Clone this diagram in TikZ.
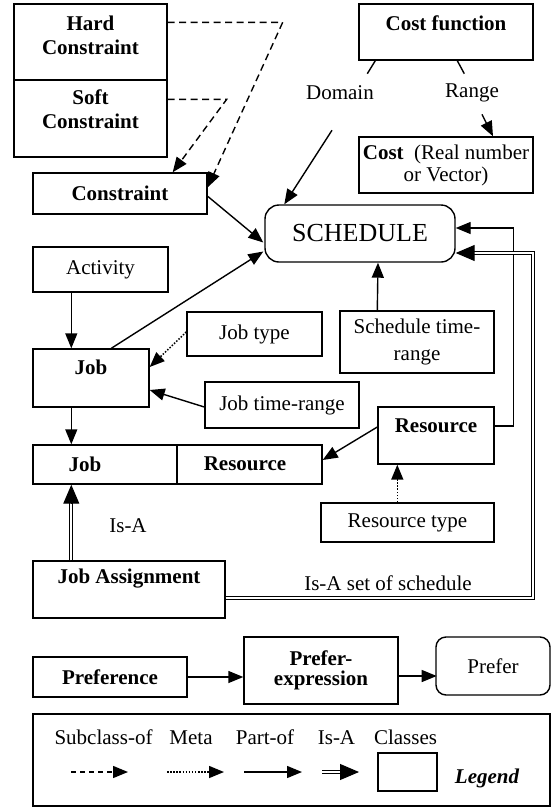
\documentclass[tikz,border=0pt]{standalone}
\usepackage{fontspec}
\setmainfont{Liberation Serif}
\usetikzlibrary{arrows.meta,calc}
\begin{document}
\fontsize{21}{24}\selectfont
\begin{tikzpicture}[x=1pt,y=-1pt,
 box/.style={draw, line width=1.4pt, inner sep=0pt, align=center},
 txt/.style={inner sep=0pt, align=center},
 arr/.style={line width=1.4pt, -{Triangle[length=15pt,width=12pt]}},
 dasharr/.style={arr, dash pattern=on 7pt off 4.5pt},
 dotarr/.style={arr, line width=1.5pt, dash pattern=on 1.5pt off 1.6pt},
 isaline/.style={double, double distance=2.2pt, line width=1pt},
 isatip/.style={-{Triangle[length=19pt,width=16pt]}},
 plain/.style={line width=1.4pt}]
\useasboundingbox (0,0) rectangle (553,809);

% top left
\node[box, minimum width=153, minimum height=76] (hard) at (90.5,42) {};
\node[txt, font=\bfseries] (hardT) at (90.5,35) {Hard\\Constraint};
\node[box, minimum width=153, minimum height=77] (soft) at (90.5,118.5) {};
\node[txt, font=\bfseries] (softT) at (90.5,109) {Soft\\Constraint};
\node[box, minimum width=174, minimum height=41, font=\bfseries] (cons) at (120,193.5) {Constraint};

% top right
\node[box, minimum width=174, minimum height=56] (costf) at (446,32) {};
\node[txt, font=\bfseries] (costfT) at (446,23) {Cost function};
\node[txt] (domain) at (340,93) {Domain};
\node[txt] (range) at (472,93) {Range};
\node[box, minimum width=174, minimum height=56, font=\fontsize{21}{22}\selectfont] (cost) at (446,165) {\textbf{Cost}\ \ (Real number\\or Vector)};

\node[box, rounded corners=14pt, minimum width=190, minimum height=57, font=\fontsize{26}{30}\selectfont] (sched) at (360,233.5) {SCHEDULE};

% middle
\node[box, minimum width=135, minimum height=45] (act) at (100.5,269.5) {Activity};
\node[box, minimum width=116, minimum height=58] (job) at (91,378) {};
\node[txt, font=\bfseries] (jobT) at (91,367) {Job};
\node[box, minimum width=135, minimum height=44] (jtype) at (254.5,334) {Job type};
\node[box, minimum width=154, minimum height=46] (jtr) at (282,405) {Job time-range};
\node[box, minimum width=154, minimum height=62, font=\fontsize{21}{27}\selectfont] (str) at (417,342) {Schedule time-\\range};
\node[box, minimum width=116, minimum height=57] (res) at (436,435.5) {};
\node[txt, font=\bfseries] (resT) at (436,426) {Resource};
\node[box, minimum width=144, minimum height=39] (jrJ) at (105,464.5) {};
\node[box, minimum width=145, minimum height=39] (jrR) at (249.5,464.5) {};
\node[txt, font=\bfseries] (jrJT) at (85,464) {Job};
\node[txt, font=\bfseries] (jrRT) at (245,464) {Resource};
\node[box, minimum width=173, minimum height=39] (rtype) at (407.5,522.5) {Resource type};
\node[box, minimum width=192, minimum height=57] (ja) at (129,589.5) {};
\node[txt, font=\bfseries] (jaT) at (129,579) {Job Assignment};
\node[txt] (isa) at (128,526) {Is-A};
\node[txt] (isaset) at (388,583) {Is-A set of schedule};

% preference row
\node[box, minimum width=154, minimum height=40, font=\bfseries] (pref) at (110,677) {Preference};
\node[box, minimum width=154, minimum height=67, font=\bfseries\fontsize{21}{20}\selectfont] (pexp) at (321,670.5) {Prefer-\\expression};
\node[box, rounded corners=10pt, minimum width=114, minimum height=58] (prefer) at (493,666) {Prefer};

% legend
\node[box, minimum width=517, minimum height=92] (legend) at (291.5,760) {};
\node[txt, anchor=base] (lsub) at (103.5,744) {Subclass-of};
\node[txt, anchor=base] (lmeta) at (191,744) {Meta};
\node[txt, anchor=base] (lpart) at (265,744) {Part-of};
\node[txt, anchor=base] (lisa) at (336.5,744) {Is-A};
\node[txt, anchor=base] (lcls) at (405.5,744) {Classes};
\node[box, minimum width=59, minimum height=38] (lbox) at (407.5,772) {};
\node[txt, font=\bfseries\itshape] (lleg) at (487,778) {Legend};
\coordinate (a1) at (71,772); \coordinate (a2) at (128,772);
\coordinate (b1) at (167,772); \coordinate (b2) at (224,772);
\coordinate (c1) at (244,772); \coordinate (c2) at (302,772);
\coordinate (d1) at (322,772); \coordinate (d2) at (340,772); \coordinate (d3) at (359,772);
\draw[dasharr, dash pattern=on 5pt off 4pt] (a1) -- (a2);
\draw[dotarr] (b1) -- (b2);
\draw[arr] (c1) -- (c2);
\draw[isaline] (d1) -- (d2);
\draw[isatip, line width=1pt] (d2) -- (d3);

% connectors
\draw[dasharr] ($(hard.north east)+(0,19)$) -- ++(115,0) -- ($(cons.north east)+(0,15)$);
\draw[dasharr] ($(soft.north east)+(0,20)$) -- ++(59,0) -- ($(cons.north east)+(-35,0)$);
\draw[arr] ($(cons.north east)+(0,24)$) -- ($(sched.west)+(-1,9)$);
\draw[plain] ($(costf.south west)+(17,0)$) -- ++(-8,13);
\draw[plain] ($(costf.south west)+(99,0)$) -- ++(7,13);
\draw[arr] ($(domain.south)+(-8,30)$) -- ($(sched.north west)+(20,0)$);
\draw[arr] ($(range.south)+(10,12)$) -- ($(cost.north)+(47,0)$);
\draw[arr] ($(act.south west)+(39,0)$) -- ($(job.north west)+(39,0)$);
\draw[arr] ($(job.north west)+(79,0)$) -- ($(sched.west)+(-1,18)$);
\draw[dotarr] ($(jtype.west)+(0,-2)$) -- ($(job.east)+(0,-11)$);
\draw[arr] ($(jtr.west)+(0,2)$) -- ($(job.east)+(0,12)$);
\draw[arr] ($(job.south west)+(39,0)$) -- ($(jrJ.north west)+(39,0)$);
\draw[arr] ($(str.north west)+(38,0)$) -- ($(sched.south)+(18,0)$);
\draw[arr] ($(res.east)+(0,-9.5)$) -- ++(19,0) |- ($(sched.east)+(0,-5.5)$);
\draw[arr] ($(res.west)+(0,-8.5)$) -- ($(jrR.east)+(0,-4.5)$);
\draw[dotarr] ($(rtype.north west)+(77,0)$) -- ($(res.south west)+(20,0)$);
% Is-A: Job Assignment -> Job|Resource
\coordinate (isaA) at ($(ja.north west)+(39,0)$);
\coordinate (isaB) at ($(jrJ.south west)+(39,18)$);
\coordinate (isaC) at ($(jrJ.south west)+(39,0)$);
\draw[isaline] (isaA) -- (isaB);
\draw[isatip, line width=1pt] (isaB) -- (isaC);
% Is-A set of schedule: Job Assignment -> SCHEDULE
\coordinate (setA) at ($(ja.east)+(0,8.5)$);
\coordinate (setB) at ($(ja.east)+(307,8.5)$);
\coordinate (setC) at ($(sched.east)+(17,19.5)$);
\coordinate (setD) at ($(sched.east)+(0,19.5)$);
\draw[isaline] (setA) -- (setB) |- (setC);
\draw[isatip, line width=1pt] (setC) -- (setD);
\draw[arr] (pref.east) -- (pref.east -| pexp.west);
\draw[arr] ($(pexp.east)+(0,5.5)$) -- ($(pexp.east)+(38,5.5)$);
\end{tikzpicture}
\end{document}
